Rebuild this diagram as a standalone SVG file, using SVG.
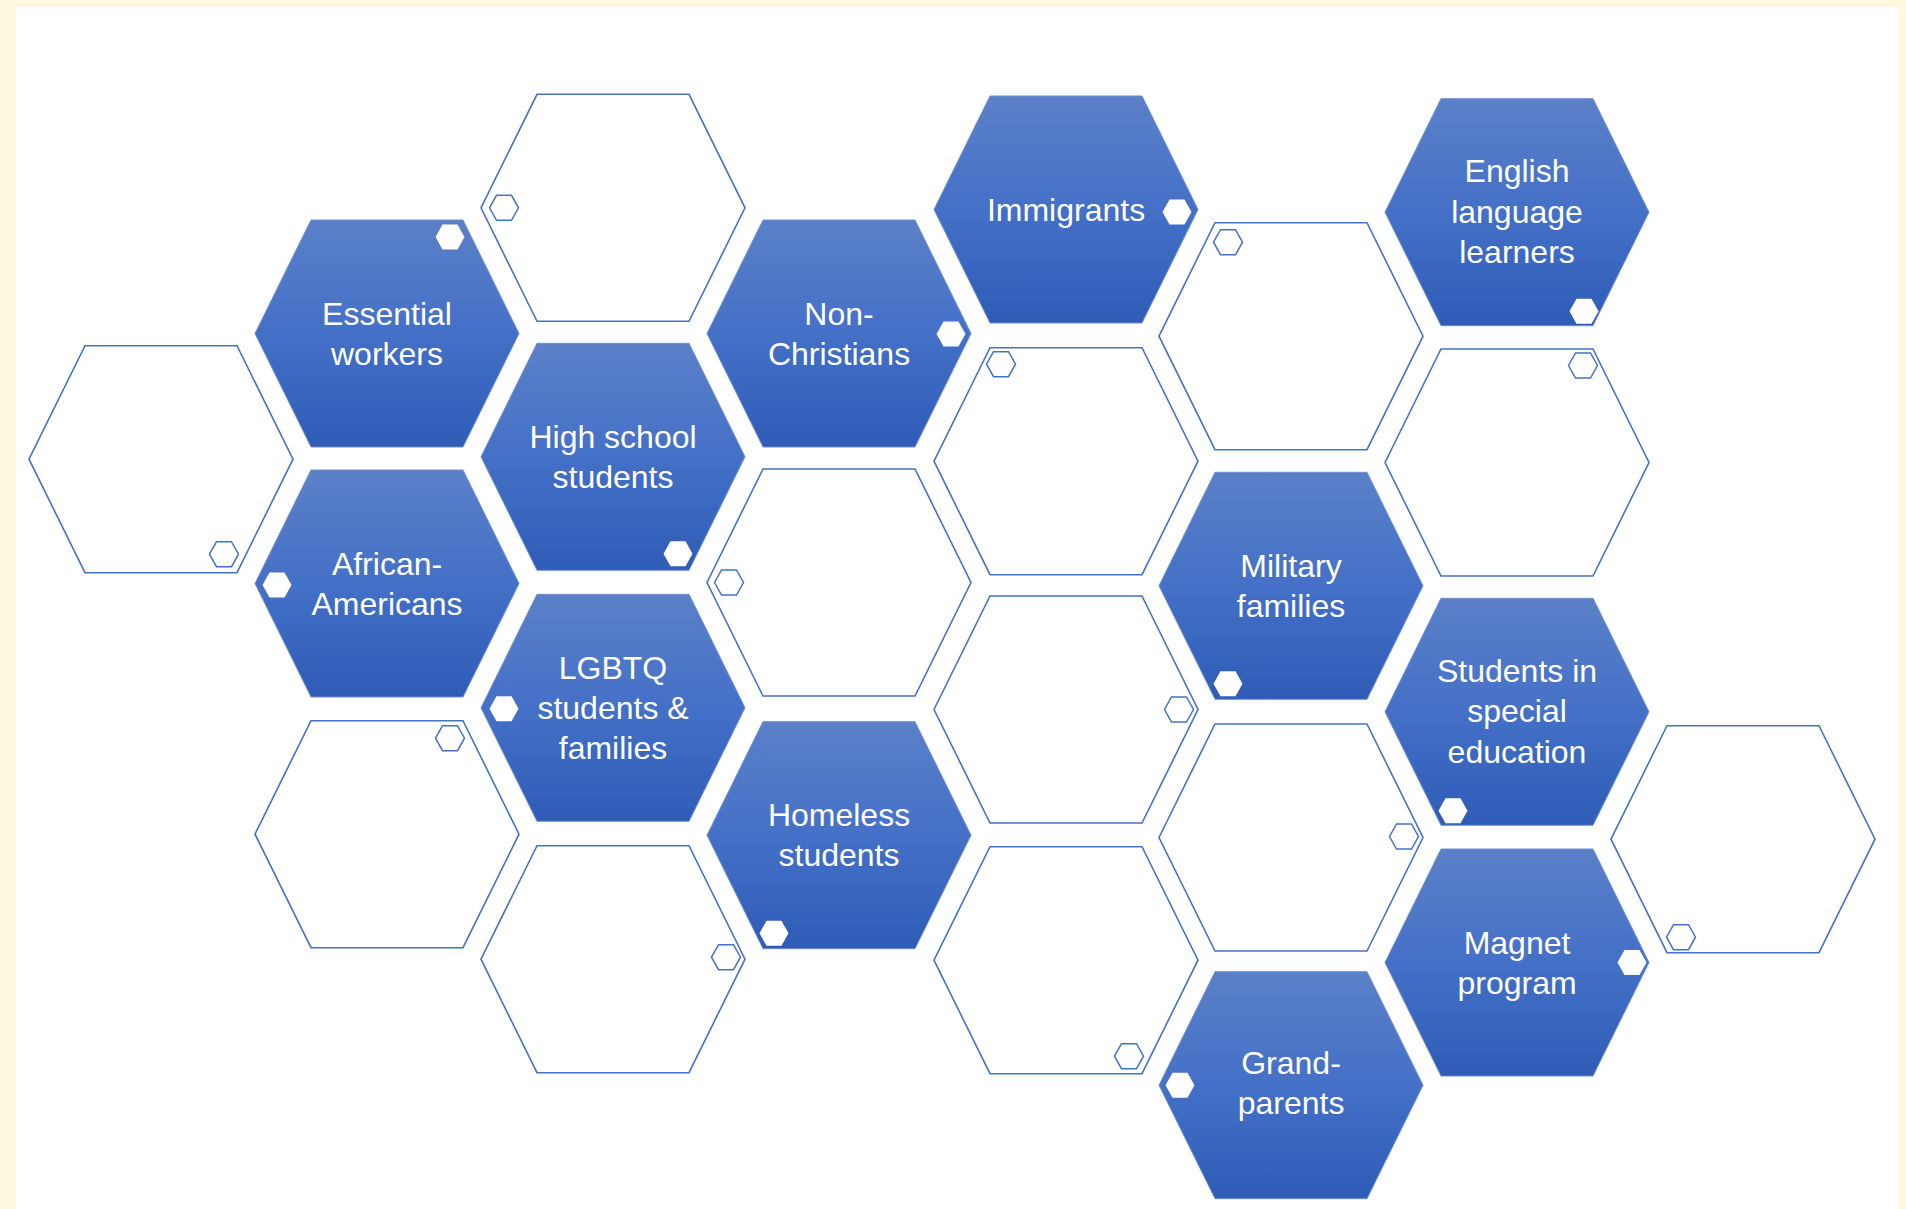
<svg xmlns="http://www.w3.org/2000/svg" xmlns:xlink="http://www.w3.org/1999/xlink" width="1906" height="1209" viewBox="0 0 1906 1209">
  <defs>
    <linearGradient id="blueFill" x1="0" y1="0" x2="0" y2="1">
      <stop offset="0" stop-color="#5b80c8"/>
      <stop offset="0.5" stop-color="#4470c7"/>
      <stop offset="1" stop-color="#2e5cb6"/>
    </linearGradient>
    <!-- big cell: 264 wide, 227 tall -->
    <polygon id="hex" points="-132,0 -76,-113.5 76,-113.5 132,0 76,113.5 -76,113.5"/>
    <!-- small corner badge -->
    <polygon id="mini" points="-14.5,0 -7.5,-12.5 7.5,-12.5 14.5,0 7.5,12.5 -7.5,12.5"/>
  </defs>
  <style>
    .filled { fill: url(#blueFill); stroke: #6d8fd2; stroke-width: 1; }
    .empty { fill: #ffffff; stroke: #4472c4; stroke-width: 1.6; }
    .dot { fill: #ffffff; }
    .ring { fill: none; stroke: #4472c4; stroke-width: 1.5; }
    .label { font-family: "Liberation Sans", Arial, sans-serif; font-size: 32px; fill: #ffffff; text-anchor: middle; }
  </style>

  <!-- page background -->
  <rect x="0" y="0" width="1906" height="1209" fill="#fff8e1"/>
  <rect x="16" y="7" width="1882" height="1202" fill="#ffffff"/>

  <!-- outlined cells -->
  <g id="empty-c2r0" transform="translate(613,207.8)"><use href="#hex" class="empty"/><use href="#mini" class="ring" x="-109" y="0"/></g>
  <g id="empty-c0r1" transform="translate(161,459.2)"><use href="#hex" class="empty"/><use href="#mini" class="ring" x="63" y="95"/></g>
  <g id="empty-c1r2" transform="translate(387,834.2)"><use href="#hex" class="empty"/><use href="#mini" class="ring" x="63" y="-96"/></g>
  <g id="empty-c3r1" transform="translate(839,582.5)"><use href="#hex" class="empty"/><use href="#mini" class="ring" x="-110" y="0"/></g>
  <g id="empty-c4r1" transform="translate(1066,461.2)"><use href="#hex" class="empty"/><use href="#mini" class="ring" x="-65" y="-97"/></g>
  <g id="empty-c4r2" transform="translate(1066,709.5)"><use href="#hex" class="empty"/><use href="#mini" class="ring" x="113" y="0"/></g>
  <g id="empty-c5r0" transform="translate(1291,336.2)"><use href="#hex" class="empty"/><use href="#mini" class="ring" x="-63" y="-94"/></g>
  <g id="empty-c6r1" transform="translate(1517,462.5)"><use href="#hex" class="empty"/><use href="#mini" class="ring" x="66" y="-97"/></g>
  <g id="empty-c5r2" transform="translate(1291,837.5)"><use href="#hex" class="empty"/><use href="#mini" class="ring" x="113" y="-1"/></g>
  <g id="empty-c7r2" transform="translate(1743,839.2)"><use href="#hex" class="empty"/><use href="#mini" class="ring" x="-62" y="98"/></g>
  <g id="empty-c2r3" transform="translate(613,959.2)"><use href="#hex" class="empty"/><use href="#mini" class="ring" x="113" y="-2"/></g>
  <g id="empty-c4r3" transform="translate(1066,960.2)"><use href="#hex" class="empty"/><use href="#mini" class="ring" x="63" y="96"/></g>

  <!-- labelled cells -->
  <g id="essential-workers" transform="translate(387,333.5)">
    <use href="#hex" class="filled"/><use href="#mini" class="dot" x="63" y="-96.5"/>
    <text class="label"><tspan x="0" y="-9">Essential</tspan><tspan x="0" y="31">workers</tspan></text>
  </g>
  <g id="african-americans" transform="translate(387,583.5)">
    <use href="#hex" class="filled"/><use href="#mini" class="dot" x="-110" y="1.5"/>
    <text class="label"><tspan x="0" y="-9">African-</tspan><tspan x="0" y="31">Americans</tspan></text>
  </g>
  <g id="high-school-students" transform="translate(613,456.8)">
    <use href="#hex" class="filled"/><use href="#mini" class="dot" x="65" y="97"/>
    <text class="label"><tspan x="0" y="-9">High school</tspan><tspan x="0" y="31">students</tspan></text>
  </g>
  <g id="lgbtq" transform="translate(613,707.8)">
    <use href="#hex" class="filled"/><use href="#mini" class="dot" x="-109" y="1"/>
    <text class="label"><tspan x="0" y="-29">LGBTQ</tspan><tspan x="0" y="11">students &amp;</tspan><tspan x="0" y="51">families</tspan></text>
  </g>
  <g id="non-christians" transform="translate(839,333.5)">
    <use href="#hex" class="filled"/><use href="#mini" class="dot" x="112" y="0.5"/>
    <text class="label"><tspan x="0" y="-9">Non-</tspan><tspan x="0" y="31">Christians</tspan></text>
  </g>
  <g id="immigrants" transform="translate(1066,209.5)">
    <use href="#hex" class="filled"/><use href="#mini" class="dot" x="111" y="2.5"/>
    <text class="label" x="0" y="11">Immigrants</text>
  </g>
  <g id="homeless-students" transform="translate(839,835.2)">
    <use href="#hex" class="filled"/><use href="#mini" class="dot" x="-65" y="98"/>
    <text class="label"><tspan x="0" y="-9">Homeless</tspan><tspan x="0" y="31">students</tspan></text>
  </g>
  <g id="military-families" transform="translate(1291,585.8)">
    <use href="#hex" class="filled"/><use href="#mini" class="dot" x="-63" y="98"/>
    <text class="label"><tspan x="0" y="-9">Military</tspan><tspan x="0" y="31">families</tspan></text>
  </g>
  <g id="english-learners" transform="translate(1517,212.2)">
    <use href="#hex" class="filled"/><use href="#mini" class="dot" x="67" y="99"/>
    <text class="label"><tspan x="0" y="-30">English</tspan><tspan x="0" y="10.5">language</tspan><tspan x="0" y="51">learners</tspan></text>
  </g>
  <g id="special-education" transform="translate(1517,711.8)">
    <use href="#hex" class="filled"/><use href="#mini" class="dot" x="-64" y="99"/>
    <text class="label"><tspan x="0" y="-30">Students in</tspan><tspan x="0" y="10.5">special</tspan><tspan x="0" y="51">education</tspan></text>
  </g>
  <g id="magnet-program" transform="translate(1517,962.5)">
    <use href="#hex" class="filled"/><use href="#mini" class="dot" x="115" y="0"/>
    <text class="label"><tspan x="0" y="-9">Magnet</tspan><tspan x="0" y="31">program</tspan></text>
  </g>
  <g id="grandparents" transform="translate(1291,1085.2)">
    <use href="#hex" class="filled"/><use href="#mini" class="dot" x="-111" y="0"/>
    <text class="label"><tspan x="0" y="-11">Grand-</tspan><tspan x="0" y="29">parents</tspan></text>
  </g>
</svg>
